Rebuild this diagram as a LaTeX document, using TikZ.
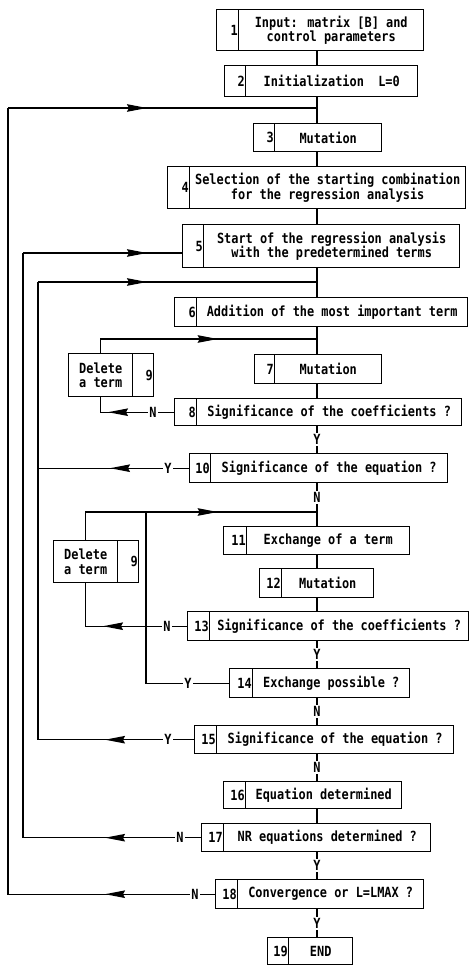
\documentclass[tikz,border=0pt]{standalone}
\usepackage{fontspec}
\newfontfamily\flowfont[FakeStretch=0.85]{DejaVu Sans Mono Bold}
\usetikzlibrary{arrows.meta, decorations.markings}
\tikzset{
  flow/.style={
    line width=1.4pt,
  },
  cell/.style={
    draw,
    line width=1.4pt,
    rectangle,
    inner sep=1pt,
    anchor=north west,
    font=\flowfont\fontsize{14}{14.5}\selectfont,
  },
  text cell/.style={
    cell,
    align=center,
  },
  num cell/.style={
    cell,
  },
  num label/.style={
    anchor=east,
    inner sep=1.5pt,
    font=\flowfont\fontsize{14}{14.5}\selectfont,
  },
  answer/.style={
    fill=white,
    inner sep=1.5pt,
    font=\flowfont\fontsize{14}{14.5}\selectfont,
  },
  flow arrow/.style={decoration={
    markings,
    mark=at position #1 with {\arrow{Stealth[length=20pt,width=7.5pt,inset=2pt]}}},
    postaction={decorate}
  },
}
% name, number, left, divider, right, top, bottom, text
\newcommand{\flowstep}[8]{%
  \node[num cell, minimum width={(#4-#3)*1pt}, minimum height={(#7-#6)*1pt},
    label={[num label]east:#2}] (#1n) at (#3,#6) {};
  \node[text cell, minimum width={(#5-#4)*1pt}, minimum height={(#7-#6)*1pt}]
    (#1) at (#4,#6) {#8};
}
% text cell on the left, number on the right
\newcommand{\deletestep}[8]{%
  \node[text cell, minimum width={(#4-#3)*1pt}, minimum height={(#7-#6)*1pt}]
    (#1) at (#3,#6) {#8};
  \node[num cell, minimum width={(#5-#4)*1pt}, minimum height={(#7-#6)*1pt},
    label={[num label]east:#2}] (#1n) at (#4,#6) {};
}

\begin{document}
\begin{tikzpicture}[x=1pt, y=-1pt]
  \useasboundingbox (0,0) rectangle (469,965);
  \coordinate (axis) at (317,0);

  \flowstep{b1}{1}{216}{238}{423}{9}{50}{Input: matrix [B] and\\control parameters}
  \flowstep{b2}{2}{224}{245}{417}{65}{96}{Initialization\ \ L=0}
  \flowstep{b3}{3}{253}{274}{381}{123}{151}{Mutation}
  \flowstep{b4}{4}{167}{189}{465}{166}{208}{Selection of the starting combination\\for the regression analysis}
  \flowstep{b5}{5}{182}{203}{459}{224}{267}{Start of the regression analysis\\with the predetermined terms}
  \flowstep{b6}{6}{174}{196}{467}{297}{326}{Addition of the most important term}
  \flowstep{b7}{7}{254}{274}{381}{354}{383}{Mutation}
  \flowstep{b8}{8}{174}{196}{461}{398}{425}{Significance of the coefficients ?}
  \deletestep{del1}{9}{68}{132}{153}{353}{396}{Delete\\a term}
  \flowstep{b10}{10}{189}{210}{447}{453}{482}{Significance of the equation ?}
  \flowstep{b11}{11}{223}{246}{409}{526}{554}{Exchange of a term}
  \flowstep{b12}{12}{259}{281}{373}{568}{597}{Mutation}
  \deletestep{del2}{9}{53}{117}{138}{540}{582}{Delete\\a term}
  \flowstep{b13}{13}{187}{209}{468}{611}{640}{Significance of the coefficients ?}
  \flowstep{b14}{14}{229}{252}{409}{668}{697}{Exchange possible ?}
  \flowstep{b15}{15}{194}{216}{453}{725}{753}{Significance of the equation ?}
  \flowstep{b16}{16}{223}{245}{401}{781}{808}{Equation determined}
  \flowstep{b17}{17}{201}{223}{430}{823}{851}{NR equations determined ?}
  \flowstep{b18}{18}{215}{237}{423}{879}{908}{Convergence or L=LMAX ?}
  \flowstep{b19}{19}{267}{288}{352}{937}{964}{END}

  \coordinate (j1) at (317,108);
  \coordinate (j3) at (317,282);
  \coordinate (j4) at (317,339);
  \coordinate (j5) at (317,512);
  \coordinate (e5) at (182,253);
  \coordinate (r18) at (8,108);
  \coordinate (r17) at (23,253);
  \coordinate (r15) at (38,282);
  \coordinate (r14) at (146,512);

  % main line
  \foreach \a/\b in {b1.south/b2.north, b2.south/j1, j1/b3.north, b3.south/b4.north,
      b4.south/b5.north, b5.south/j3, j3/b6.north, b6.south/j4, j4/b7.north,
      b7.south/b8.north, j5/b11.north, b11.south/b12.north, b12.south/b13.north,
      b16.south/b17.north}
    \draw[flow] (\a -| axis) -- (\b -| axis);
  \foreach \a/\b/\ans in {b8.south/b10.north/Y, b10.south/j5/N, b13.south/b14.north/Y,
      b14.south/b15.north/N, b15.south/b16.north/N, b17.south/b18.north/Y,
      b18.south/b19.north/Y}
    \draw[flow] (\a -| axis) -- node[answer] {\ans} (\b -| axis);

  % loops back
  \draw[flow, flow arrow=110pt] (b18n.west) -| (r18)
    node[answer] at ([xshift=-20pt]b18n.west) {N};
  \draw[flow, flow arrow=139pt] (r18) -- (j1);
  \draw[flow, flow arrow=96pt] (b17n.west) -| (r17)
    node[answer] at ([xshift=-21pt]b17n.west) {N};
  \draw[flow, flow arrow=124pt] (r17) -- (e5);
  \draw[flow, flow arrow=89pt] (b15n.west) -| (r15)
    node[answer] at ([xshift=-26pt]b15n.west) {Y};
  \draw[flow, flow arrow=109pt] (r15) -- (j3);
  \draw[flow, flow arrow=79pt] (b10n.west) -- (b10n.west -| r15)
    node[answer] at ([xshift=-21pt]b10n.west) {Y};
  \draw[flow, flow arrow=66pt] (b8n.west) -| (del1.south)
    node[answer] at ([xshift=-21pt]b8n.west) {N};
  \draw[flow, flow arrow=131pt] (del1.north) |- (j4);
  \draw[flow, flow arrow=84pt] (b13n.west) -| (del2.south)
    node[answer] at ([xshift=-20pt]b13n.west) {N};
  \draw[flow, flow arrow=160pt] (del2.north) |- (j5);
  \draw[flow] (b14n.west) -| (r14)
    node[answer] at ([xshift=-41pt]b14n.west) {Y};
\end{tikzpicture}
\end{document}
